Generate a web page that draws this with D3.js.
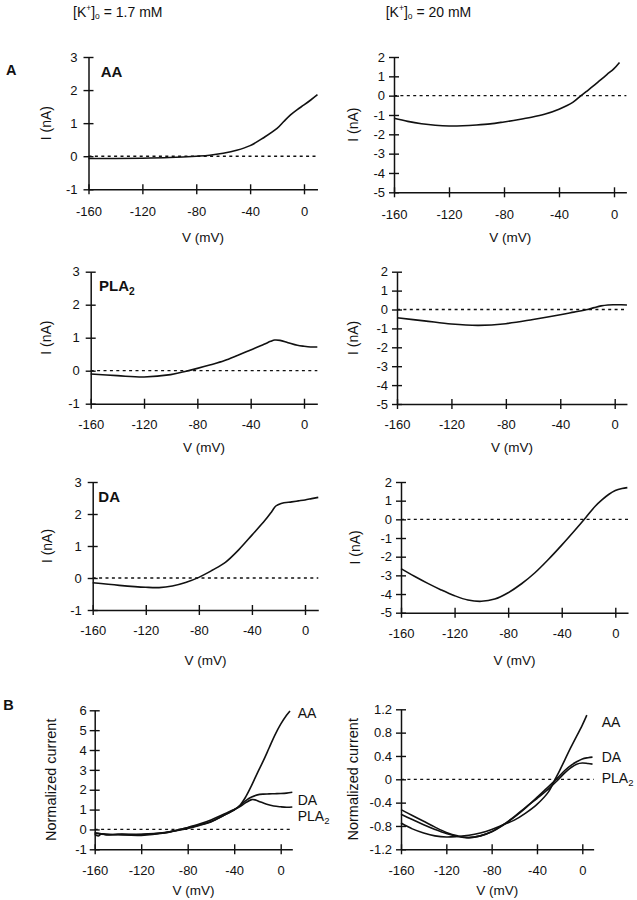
<!DOCTYPE html>
<html><head><meta charset="utf-8">
<script src="https://cdn.jsdelivr.net/npm/d3@7"></script>
<style>
body{margin:0;background:#fff}
svg{display:block}
text{font-family:"Liberation Sans",Arial,Helvetica,sans-serif;fill:#111}
</style>
</head><body><svg id="c" width="637" height="900"></svg>
<script>
// ---------- tick values ----------
const xTicks = [-160, -120, -80, -40, 0];
const yTicksA17 = [-1, 0, 1, 2, 3];
const yTicksA20 = [-5, -4, -3, -2, -1, 0, 1, 2];
const yTicksB17 = [-1, 0, 1, 2, 3, 4, 5, 6];
const yTicksB20 = [-1.2, -0.8, -0.4, 0, 0.4, 0.8, 1.2];

// ---------- A: [K+]o = 1.7 mM ----------
const aa17V  = [-160,-140,-120,-100,-80,-70,-60,-50,-40,-30,-20,-15,-10,-5,0,5,10];
const aa17I  = [-0.07,-0.07,-0.06,-0.04,0.0,0.03,0.09,0.18,0.32,0.56,0.84,1.05,1.25,1.41,1.55,1.7,1.86];
const pla17V = [-160,-140,-120,-100,-90,-80,-70,-60,-50,-40,-30,-25,-22,-18,-12,-5,0,5,10];
const pla17I = [-0.1,-0.15,-0.19,-0.12,-0.03,0.07,0.18,0.3,0.46,0.63,0.8,0.89,0.93,0.92,0.85,0.77,0.74,0.72,0.72];
const da17V  = [-160,-140,-120,-110,-100,-90,-80,-70,-60,-50,-40,-30,-25,-22,-18,-10,-5,0,5,10];
const da17I  = [-0.15,-0.23,-0.29,-0.3,-0.25,-0.14,0.02,0.24,0.49,0.88,1.34,1.81,2.08,2.25,2.33,2.38,2.41,2.44,2.48,2.52];

// ---------- A: [K+]o = 20 mM ----------
const aa20V  = [-160,-150,-140,-130,-120,-110,-100,-90,-80,-70,-60,-50,-40,-30,-24,-20,-15,-10,-5,0,4];
const aa20I  = [-1.17,-1.33,-1.45,-1.53,-1.57,-1.56,-1.52,-1.46,-1.36,-1.25,-1.12,-0.95,-0.7,-0.35,0.0,0.22,0.5,0.8,1.1,1.4,1.72];
const pla20V = [-160,-140,-120,-100,-80,-60,-40,-30,-20,-15,-10,-5,0,5,9];
const pla20I = [-0.44,-0.6,-0.77,-0.84,-0.75,-0.53,-0.28,-0.14,0.0,0.1,0.19,0.24,0.25,0.25,0.24];
const da20V  = [-160,-150,-140,-130,-120,-110,-100,-90,-80,-70,-60,-50,-40,-30,-22,-15,-10,-5,0,5,9];
const da20I  = [-2.64,-3.05,-3.43,-3.78,-4.09,-4.32,-4.39,-4.27,-3.93,-3.45,-2.86,-2.15,-1.38,-0.57,0.1,0.7,1.04,1.33,1.54,1.65,1.7];

// ---------- B: normalized, 1.7 mM ----------
const nAA17V  = [-160,-157,-154,-150,-140,-120,-100,-90,-80,-70,-60,-50,-40,-35,-30,-25,-20,-15,-10,-5,0,5,8];
const nAA17I  = [-0.25,-0.33,-0.22,-0.28,-0.24,-0.24,-0.16,-0.05,0.08,0.22,0.4,0.68,0.98,1.22,1.65,2.22,2.85,3.45,4.1,4.75,5.3,5.75,5.97];
const nDA17V  = [-160,-150,-140,-120,-100,-90,-80,-70,-60,-50,-40,-35,-30,-25,-20,-15,-10,-5,0,5,10];
const nDA17I  = [-0.2,-0.25,-0.25,-0.26,-0.17,-0.06,0.05,0.2,0.38,0.67,1.0,1.2,1.45,1.63,1.74,1.78,1.79,1.8,1.81,1.83,1.87];
const nPLA17V = [-160,-150,-140,-120,-100,-90,-80,-70,-60,-50,-40,-35,-30,-25,-22,-18,-12,-6,0,5,10];
const nPLA17I = [-0.17,-0.24,-0.27,-0.3,-0.18,-0.05,0.1,0.27,0.48,0.74,1.0,1.15,1.35,1.5,1.49,1.4,1.27,1.18,1.14,1.12,1.13];

// ---------- B: normalized, 20 mM ----------
const nAA20V  = [-160,-150,-140,-130,-120,-110,-100,-90,-80,-70,-60,-50,-40,-30,-24,-20,-10,0,4];
const nAA20I  = [-0.75,-0.85,-0.92,-0.97,-0.99,-0.98,-0.96,-0.92,-0.86,-0.78,-0.7,-0.58,-0.43,-0.22,0.0,0.15,0.55,0.93,1.1];
const nPLA20V = [-160,-150,-140,-130,-120,-110,-100,-90,-80,-70,-60,-50,-40,-30,-22,-15,-10,-5,0,5,9];
const nPLA20I = [-0.52,-0.62,-0.72,-0.82,-0.91,-0.97,-1.0,-0.97,-0.9,-0.78,-0.64,-0.48,-0.33,-0.17,-0.02,0.12,0.2,0.26,0.28,0.27,0.26];
const nDA20V  = [-160,-150,-140,-130,-120,-110,-100,-90,-80,-70,-60,-50,-40,-30,-22,-15,-10,-5,0,5,9];
const nDA20I  = [-0.6,-0.69,-0.78,-0.86,-0.93,-0.98,-1.0,-0.97,-0.9,-0.79,-0.65,-0.49,-0.31,-0.13,0.02,0.16,0.24,0.3,0.35,0.37,0.38];

const svg = d3.select("#c");
const FONT = 13;

function zip(v, i) { return v.map((d, k) => [d, i[k]]); }

function panel(cfg) {
  const xEnd = cfg.x0 + (cfg.xz - cfg.x0) * (160 + cfg.xMax) / 160;
  const x = d3.scaleLinear().domain([-160, cfg.xMax]).range([cfg.x0, xEnd]);
  const y = d3.scaleLinear().domain(cfg.yDom).range([cfg.yb, cfg.yt]);
  const g = svg.append("g");

  g.append("line")
    .attr("x1", x(-160)).attr("x2", xEnd)
    .attr("y1", y(0)).attr("y2", y(0))
    .attr("stroke", "#111").attr("stroke-width", 1.3)
    .attr("stroke-dasharray", "3,3.4");

  const ya = g.append("g").attr("transform", `translate(${cfg.x0},0)`)
    .call(d3.axisLeft(y).tickValues(cfg.yTicks).tickSize(5).tickSizeOuter(0)
      .tickPadding(cfg.yPad).tickFormat(d => String(d)));
  ya.selectAll(".tick line").attr("x1", 5);
  const xa = g.append("g").attr("transform", `translate(0,${cfg.yb})`)
    .call(d3.axisBottom(x).tickValues(xTicks).tickSize(5).tickSizeOuter(0)
      .tickPadding(cfg.xPad).tickFormat(d => String(d)));
  xa.selectAll(".tick line").attr("y1", -5);
  [ya, xa].forEach(a => {
    a.selectAll("path.domain").attr("stroke", "#111").attr("stroke-width", 1.5);
    a.selectAll(".tick line").attr("stroke", "#111").attr("stroke-width", 1.4);
    a.selectAll(".tick text").attr("font-size", FONT).attr("fill", "#111")
      .attr("font-family", '"Liberation Sans",Arial,Helvetica,sans-serif');
  });

  const line = d3.line().x(d => x(d[0])).y(d => y(d[1])).curve(d3.curveCatmullRom.alpha(0.5));
  cfg.series.forEach(s => {
    g.append("path").datum(s).attr("d", line)
      .attr("fill", "none").attr("stroke", "#111").attr("stroke-width", 1.6)
      .attr("stroke-linejoin", "round");
  });

  g.append("text").attr("x", (cfg.x0 + xEnd) / 2).attr("y", cfg.vLabelY + 4.7)
    .attr("text-anchor", "middle").attr("font-size", 13.5).text("V (mV)");
  g.append("text")
    .attr("transform", `translate(${cfg.yLabelX + 5},${(cfg.yt + cfg.yb) / 2}) rotate(-90)`)
    .attr("text-anchor", "middle").attr("font-size", cfg.yLabelSize).text(cfg.yLabel);
  return { x, y, g };
}

panel({x0: 88.5, xz: 304, xMax: 10, yDom: [-1, 3], yb: 189.3, yt: 57, yTicks: yTicksA17,
  yPad: 6, xPad: 12, vLabelY: 237.7, yLabelX: 45.7, yLabel: "I (nA)", yLabelSize: 14, series: [zip(aa17V, aa17I)]});
panel({x0: 394, xz: 614, xMax: 9, yDom: [-5, 2], yb: 192.3, yt: 57, yTicks: yTicksA20,
  yPad: 4, xPad: 12, vLabelY: 237.7, yLabelX: 353, yLabel: "I (nA)", yLabelSize: 14, series: [zip(aa20V, aa20I)]});
panel({x0: 90.7, xz: 304, xMax: 10, yDom: [-1, 3], yb: 403.7, yt: 271.7, yTicks: yTicksA17,
  yPad: 6, xPad: 11, vLabelY: 447.5, yLabelX: 45.7, yLabel: "I (nA)", yLabelSize: 14, series: [zip(pla17V, pla17I)]});
panel({x0: 397, xz: 614.7, xMax: 9, yDom: [-5, 2], yb: 404, yt: 271.7, yTicks: yTicksA20,
  yPad: 4, xPad: 11, vLabelY: 447.5, yLabelX: 353.3, yLabel: "I (nA)", yLabelSize: 14, series: [zip(pla20V, pla20I)]});
panel({x0: 92.7, xz: 305, xMax: 10, yDom: [-1, 3], yb: 610, yt: 482, yTicks: yTicksA17,
  yPad: 6, xPad: 11, vLabelY: 660, yLabelX: 46.7, yLabel: "I (nA)", yLabelSize: 14, series: [zip(da17V, da17I)]});
panel({x0: 401, xz: 615.3, xMax: 9.5, yDom: [-5, 2], yb: 612.7, yt: 482, yTicks: yTicksA20,
  yPad: 4, xPad: 11, vLabelY: 660, yLabelX: 355, yLabel: "I (nA)", yLabelSize: 14, series: [zip(da20V, da20I)]});

panel({x0: 94.7, xz: 280.7, xMax: 10, yDom: [-1, 6], yb: 849.3, yt: 710.3, yTicks: yTicksB17,
  yPad: 3, xPad: 11, vLabelY: 890.7, yLabelX: 50.7, yLabel: "Normalized current", yLabelSize: 14.5,
  series: [zip(nAA17V, nAA17I), zip(nDA17V, nDA17I), zip(nPLA17V, nPLA17I)]});
panel({x0: 401, xz: 582.3, xMax: 10, yDom: [-1.2, 1.2], yb: 849.3, yt: 709.3, yTicks: yTicksB20,
  yPad: 4, xPad: 11, vLabelY: 890.7, yLabelX: 353.3, yLabel: "Normalized current", yLabelSize: 14.5,
  series: [zip(nAA20V, nAA20I), zip(nDA20V, nDA20I), zip(nPLA20V, nPLA20I)]});

// ---------- texts ----------
function header(xp, conc) {
  const t = svg.append("text").attr("x", xp).attr("y", 16.7).attr("font-size", 14);
  t.append("tspan").text("[K");
  t.append("tspan").attr("font-size", 8.5).attr("dy", -5.5).text("+");
  t.append("tspan").attr("dy", 5.5).text("]");
  t.append("tspan").attr("font-size", 8.5).attr("dy", 2.5).text("o");
  t.append("tspan").attr("dy", -2.5).text(" = " + conc + " mM");
}
header(73, "1.7");
header(385.7, "20");

function bold(xp, yp, main, sub, size) {
  const t = svg.append("text").attr("x", xp).attr("y", yp).attr("font-size", size)
    .attr("font-weight", "bold").text(main);
  if (sub) t.append("tspan").attr("font-size", size * 0.68).attr("dy", 4).text(sub);
}
bold(6, 75, "A", null, 14.5);
bold(3.3, 710, "B", null, 14.5);
bold(100.7, 77.3, "AA", null, 15);
bold(99, 290.7, "PLA", "2", 15);
bold(98.3, 501.7, "DA", null, 15);

function seriesLabel(xp, yp, main, sub) {
  const t = svg.append("text").attr("x", xp).attr("y", yp).attr("font-size", 14).text(main);
  if (sub) t.append("tspan").attr("font-size", 9.5).attr("dy", 3).text(sub);
}
seriesLabel(297.7, 718, "AA");
seriesLabel(297.7, 804.5, "DA");
seriesLabel(297.7, 821, "PLA", "2");
seriesLabel(601.7, 726.5, "AA");
seriesLabel(601.7, 761.5, "DA");
seriesLabel(601.7, 783, "PLA", "2");
</script>
</body></html>
